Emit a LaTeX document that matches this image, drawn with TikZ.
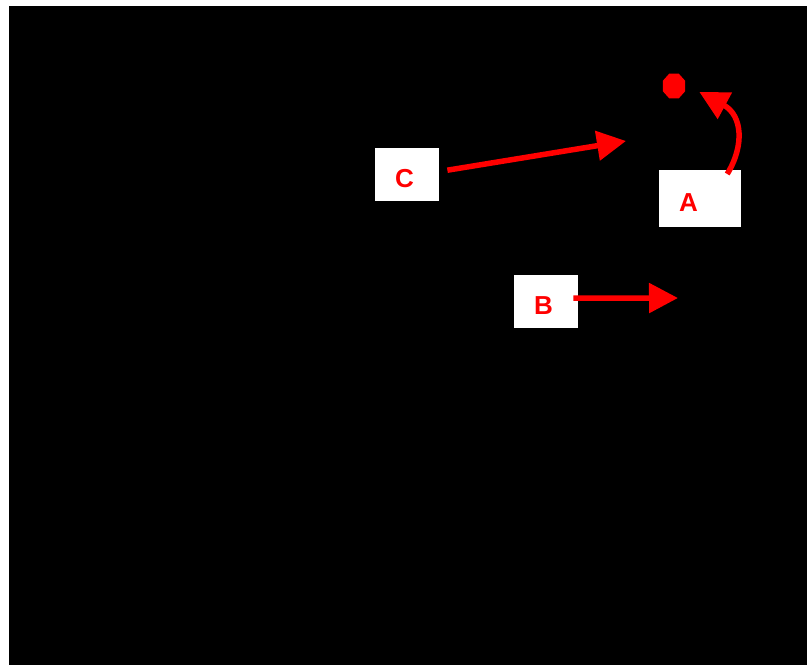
\documentclass[tikz,border=0pt]{standalone}
\usepackage{fontspec}
\setmainfont{Liberation Sans}
\usetikzlibrary{arrows.meta,shapes.geometric}

\begin{document}
\begin{tikzpicture}[
    x=1pt, y=-1pt,
    tag/.style={fill=white, text=red, font=\fontsize{26}{30}\selectfont\bfseries, anchor=north west,
        inner xsep=20pt, inner ysep=0pt, text width=24pt, minimum height=53pt, align=left,
        text height=25pt, text depth=0pt},
    octo/.style={regular polygon, regular polygon sides=8, fill=red, minimum size=27pt, inner sep=0pt},
    pointer/.style={-{Triangle[length=29pt,width=29pt]}, red, line width=5.5pt}
]
\useasboundingbox (0,0) rectangle (807,665);

% background
\fill[black] (9,6) rectangle (807,665);

% marker
\node[octo, xscale=0.9] (dot) at (674,86) {};

% labels
\node[tag, text width=42pt, minimum height=57pt] (a) at (659,170) {A};
\node[tag] (c) at (375,148) {C};
\node[tag] (b) at (514,275) {B};

% arrow ends
\coordinate (ctip) at (626,141);
\coordinate (btip) at (678,298);

% arrows
\draw[pointer] ([shift={(27,4)}]a.north) .. controls (745,145) and (742,115) .. ([shift={(14,6)}]dot.east);
\draw[pointer] ([shift={(8,-4.5)}]c.east) -- (ctip);
\draw[pointer] ([shift={(-5,-3.5)}]b.east) -- (btip);

\end{tikzpicture}
\end{document}
